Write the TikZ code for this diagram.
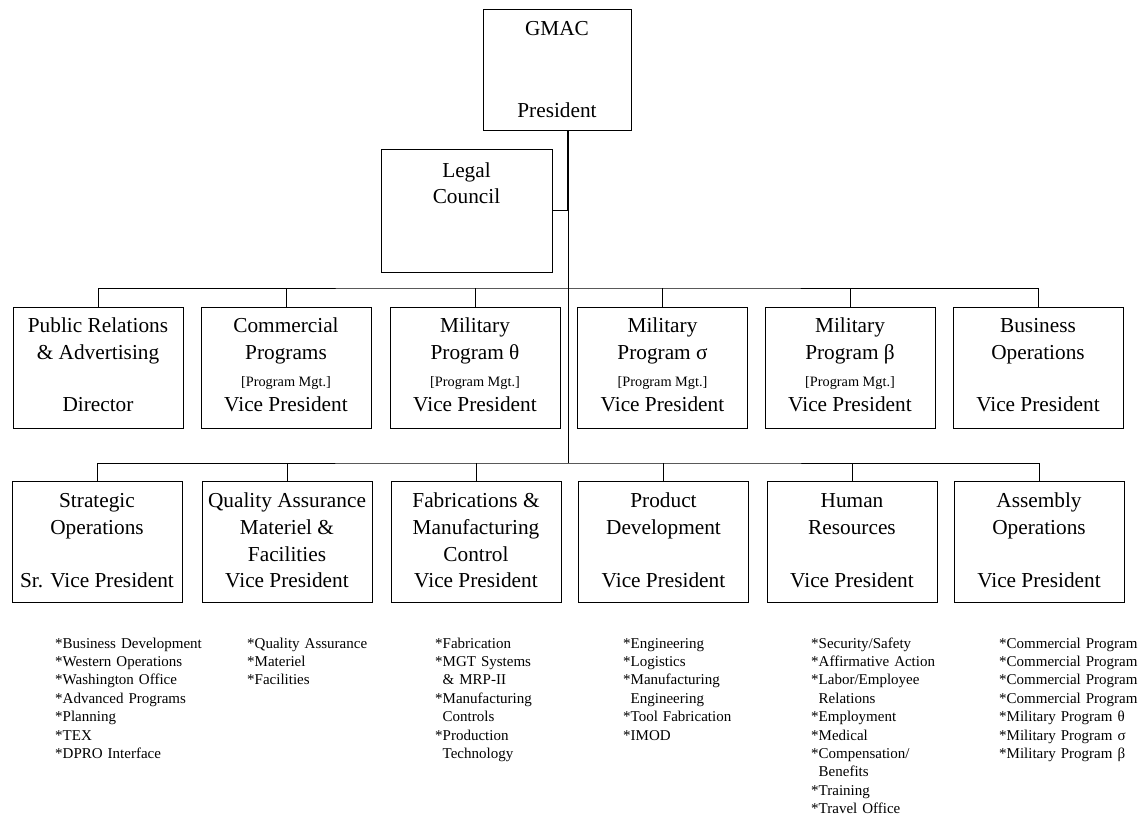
\documentclass[tikz,border=0pt]{standalone}
\usepackage{fontspec}
\setmainfont{Liberation Serif}
\begin{document}
\begin{tikzpicture}[x=1pt,y=-1pt,
  box/.style={draw, line width=0.9pt, inner sep=0pt, minimum width=170pt, minimum height=121pt},
  big/.style={font=\fontsize{21.3}{25}\selectfont, inner sep=0pt, anchor=base},
  small/.style={font=\fontsize{14.3}{17}\selectfont, inner sep=0pt, anchor=base},
  item/.style={font=\fontsize{15}{18.4}\selectfont, inner sep=0pt, anchor=base west, text width=200pt, align=left},
  conn/.style={line width=0.9pt},
  trunk/.style={line width=1.5pt}]
\useasboundingbox (0,0) rectangle (1140,816);

% ---- top
\node[box, minimum width=148pt] (gmac) at (557,69.5) {};
\node[big] (gmacA) at (557,36) {GMAC};
\node[big] (gmacB) at (557,117) {President};

\node[box, minimum width=171pt, minimum height=123pt] (legal) at (466.5,210.5) {};
\node[big] (legalA) at (466.5,177) {Legal};
\node[big] (legalB) at (466.5,203.5) {Council};

\coordinate (legalJ) at (568,210.5);
\coordinate (bus1) at (568,288);
\coordinate (bus2) at (568,463);

% ---- row 1
\node[box] (pr) at (98,367.5) {};
\node[box] (cp) at (286,367.5) {};
\node[box] (mt) at (475,367.5) {};
\node[box] (ms) at (662.5,367.5) {};
\node[box] (mb) at (850,367.5) {};
\node[box] (bo) at (1038,367.5) {};

\node[big] (prA) at (98,332.5) {Public Relations};
\node[big] (prB) at (98,359.5) {\& Advertising};
\node[big] (prC) at (98,411.5) {Director};

\node[big] (cpA) at (286,332.5) {Commercial};
\node[big] (cpB) at (286,359.5) {Programs};
\node[small] (cpC) at (286,386) {[Program Mgt.]};
\node[big] (cpD) at (286,411.5) {Vice President};

\node[big] (mtA) at (475,332.5) {Military};
\node[big] (mtB) at (475,359.5) {Program θ};
\node[small] (mtC) at (475,386) {[Program Mgt.]};
\node[big] (mtD) at (475,411.5) {Vice President};

\node[big] (msA) at (662.5,332.5) {Military};
\node[big] (msB) at (662.5,359.5) {Program σ};
\node[small] (msC) at (662.5,386) {[Program Mgt.]};
\node[big] (msD) at (662.5,411.5) {Vice President};

\node[big] (mbA) at (850,332.5) {Military};
\node[big] (mbB) at (850,359.5) {Program β};
\node[small] (mbC) at (850,386) {[Program Mgt.]};
\node[big] (mbD) at (850,411.5) {Vice President};

\node[big] (boA) at (1038,332.5) {Business};
\node[big] (boB) at (1038,359.5) {Operations};
\node[big] (boC) at (1038,411.5) {Vice President};

% ---- row 2
\node[box] (so) at (97,541.5) {};
\node[box] (qa) at (287,541.5) {};
\node[box] (fm) at (476,541.5) {};
\node[box] (pd) at (663.5,541.5) {};
\node[box] (hr) at (852,541.5) {};
\node[box] (ao) at (1039,541.5) {};

\node[big] (soA) at (97,507) {Strategic};
\node[big] (soB) at (97,534) {Operations};
\node[big] (soC) at (97,587.5) {Sr. Vice President};

\node[big] (qaA) at (287,507) {Quality Assurance};
\node[big] (qaB) at (287,534) {Materiel \&};
\node[big] (qaC) at (287,561) {Facilities};
\node[big] (qaD) at (287,587.5) {Vice President};

\node[big] (fmA) at (476,507) {Fabrications \&};
\node[big] (fmB) at (476,534) {Manufacturing};
\node[big] (fmC) at (476,561) {Control};
\node[big] (fmD) at (476,587.5) {Vice President};

\node[big] (pdA) at (663.5,507) {Product};
\node[big] (pdB) at (663.5,534) {Development};
\node[big] (pdC) at (663.5,587.5) {Vice President};

\node[big] (hrA) at (852,507) {Human};
\node[big] (hrB) at (852,534) {Resources};
\node[big] (hrC) at (852,587.5) {Vice President};

\node[big] (aoA) at (1039,507) {Assembly};
\node[big] (aoB) at (1039,534) {Operations};
\node[big] (aoC) at (1039,587.5) {Vice President};

% ---- connectors
\draw[trunk] (gmac.south -| legalJ) -- (legalJ);
\draw[conn] (legal.east) -- (legalJ);
\draw[conn] (legalJ) -- (bus2);

\draw[conn] (pr.north) |- (bus1) -| (bo.north);
\draw[conn] (cp.north) -- (cp.north |- bus1);
\draw[conn] (mt.north) -- (mt.north |- bus1);
\draw[conn] (ms.north) -- (ms.north |- bus1);
\draw[conn] (mb.north) -- (mb.north |- bus1);

\draw[conn] (so.north) |- (bus2) -| (ao.north);
\draw[conn] (qa.north) -- (qa.north |- bus2);
\draw[conn] (fm.north) -- (fm.north |- bus2);
\draw[conn] (pd.north) -- (pd.north |- bus2);
\draw[conn] (hr.north) -- (hr.north |- bus2);

% ---- lists
\node[item] (l1) at (55,648) {{*}Business Development\\{*}Western Operations\\{*}Washington Office\\{*}Advanced Programs\\{*}Planning\\{*}TEX\\{*}DPRO Interface};
\node[item] (l2) at (247,648) {{*}Quality Assurance\\{*}Materiel\\{*}Facilities};
\node[item] (l3) at (435,648) {{*}Fabrication\\{*}MGT Systems\\{\phantom{*}}\& MRP-II\\{*}Manufacturing\\{\phantom{*}}Controls\\{*}Production\\{\phantom{*}}Technology};
\node[item] (l4) at (623,648) {{*}Engineering\\{*}Logistics\\{*}Manufacturing\\{\phantom{*}}Engineering\\{*}Tool Fabrication\\{*}IMOD};
\node[item] (l5) at (811,648) {{*}Security/Safety\\{*}Affirmative Action\\{*}Labor/Employee\\{\phantom{*}}Relations\\{*}Employment\\{*}Medical\\{*}Compensation/\\{\phantom{*}}Benefits\\{*}Training\\{*}Travel Office};
\node[item] (l6) at (999,648) {{*}Commercial Program 1\\{*}Commercial Program 2\\{*}Commercial Program 3\\{*}Commercial Program 4\\{*}Military Program θ\\{*}Military Program σ\\{*}Military Program β};
\end{tikzpicture}
\end{document}
